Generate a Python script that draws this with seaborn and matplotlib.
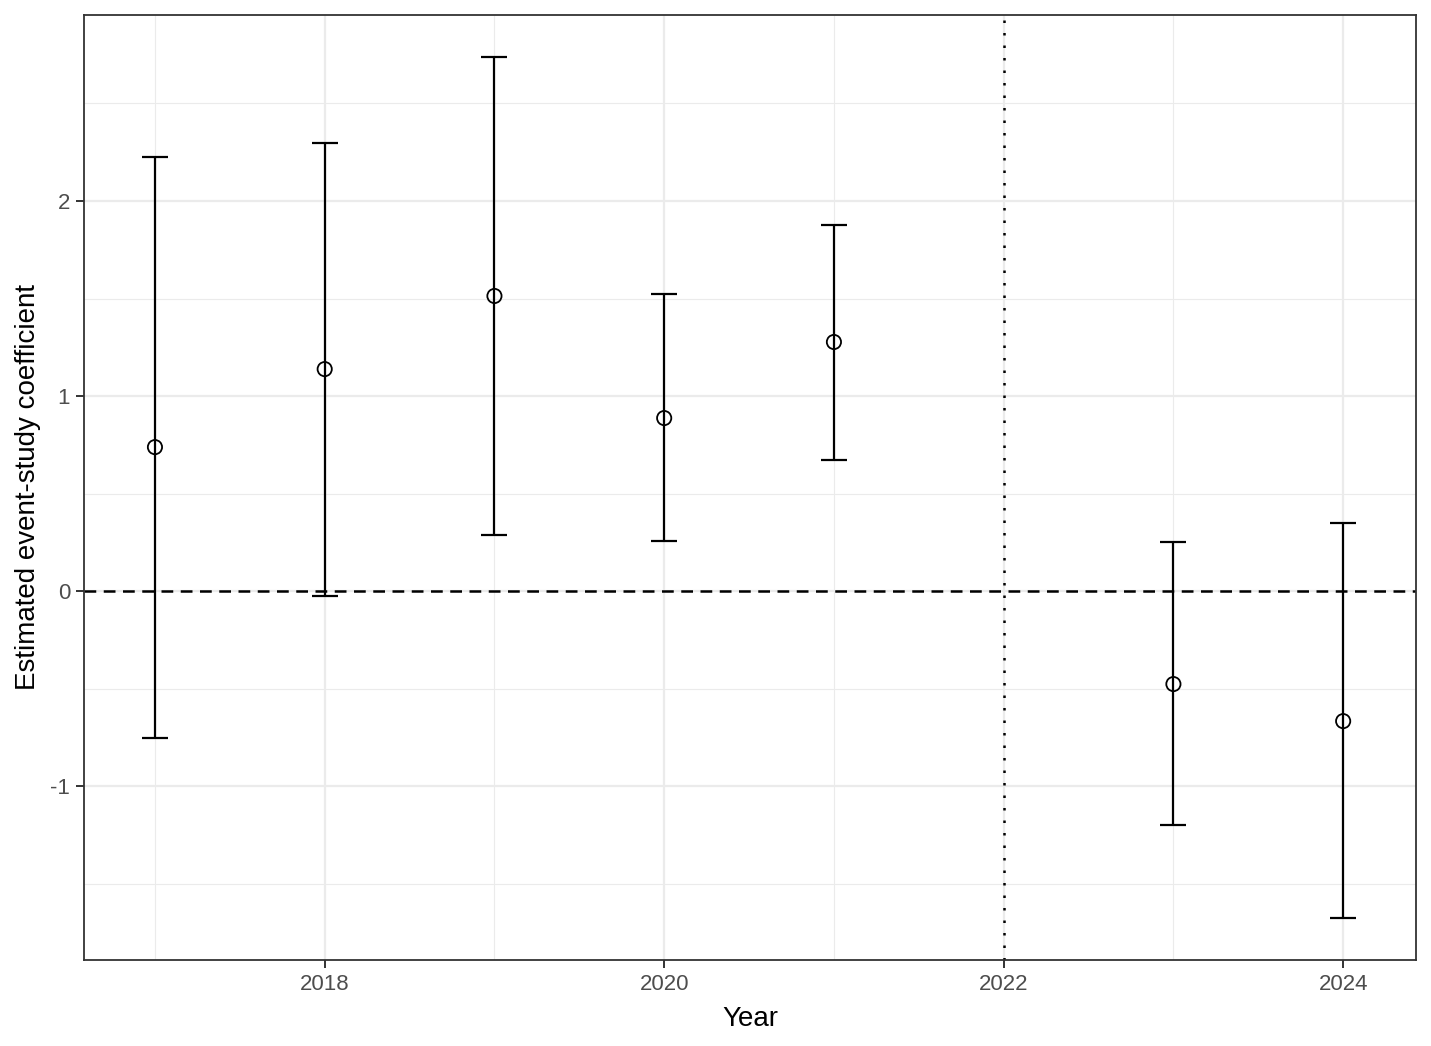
import matplotlib
matplotlib.use("Agg")
from matplotlib import pyplot as plt
from matplotlib.ticker import MultipleLocator
import seaborn as sns
import pandas as pd
import numpy as np

# event-study estimates
years = [2017, 2018, 2019, 2020, 2021, 2023, 2024]
coef = [0.738, 1.138, 1.513, 0.887, 1.277, -0.477, -0.667]
ci_low = [-0.754, -0.026, 0.287, 0.256, 0.672, -1.200, -1.677]
ci_high = [2.226, 2.297, 2.738, 1.523, 1.877, 0.251, 0.349]
treat_year = 2022

df = pd.DataFrame({"Year": years, "coef": coef, "lo": ci_low, "hi": ci_high})

sns.set_theme(style="white")
plt.rcParams["font.family"] = ["Liberation Sans", "DejaVu Sans"]
plt.rcParams["axes.unicode_minus"] = False

fig = plt.figure(figsize=(14.31, 10.46), dpi=100)
ax = fig.add_axes([0.0587, 0.0822, 0.9895 - 0.0587, 0.9857 - 0.0822])

# grid like theme_bw
ax.xaxis.set_major_locator(MultipleLocator(2))
ax.xaxis.set_minor_locator(MultipleLocator(1))
ax.yaxis.set_major_locator(MultipleLocator(1))
ax.yaxis.set_minor_locator(MultipleLocator(0.5))
ax.grid(which="major", color="#EBEBEB", linewidth=1.6, zorder=0)
ax.grid(which="minor", color="#EBEBEB", linewidth=0.8, zorder=0)
ax.set_axisbelow(True)

ax.axhline(0, color="black", linestyle=(0, (4.7, 3)), linewidth=1.8, zorder=2)
ax.axvline(treat_year, color="black", linestyle=(0, (1, 4)), linewidth=1.8, zorder=2)

ax.errorbar(df["Year"], df["coef"],
            yerr=[df["coef"] - df["lo"], df["hi"] - df["coef"]],
            fmt="none", ecolor="black", elinewidth=1.6, capsize=9.2,
            capthick=1.6, zorder=3)
sns.scatterplot(data=df, x="Year", y="coef", ax=ax, s=105, marker="o",
                facecolor="none", edgecolor="black", linewidth=1.3, zorder=4)

ax.set_xlim(2016.582, 2024.429)
ax.set_ylim(-1.892, 2.954)
ax.set_xticks([2018, 2020, 2022, 2024])
ax.set_yticks([-1, 0, 1, 2])
ax.set_yticklabels(["-1", "0", "1", "2"])

ax.tick_params(which="major", length=6, width=1.4, color="#333333",
               labelsize=16, labelcolor="#4D4D4D", pad=4)
ax.tick_params(which="minor", length=0)
ax.tick_params(axis="x", bottom=True)
ax.tick_params(axis="y", left=True)
for s in ax.spines.values():
    s.set_color("#333333")
    s.set_linewidth(1.3)

ax.set_xlabel("Year", fontsize=20, color="black", labelpad=8)
ax.set_ylabel("Estimated event-study coefficient", fontsize=20, color="black", labelpad=7)

fig.savefig("out.png", dpi=100)
